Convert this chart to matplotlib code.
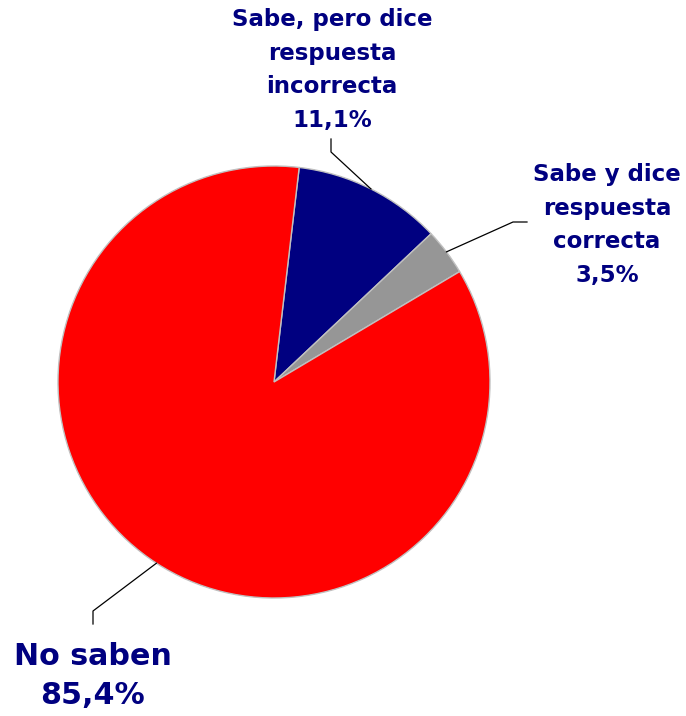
import numpy as np
import matplotlib.pyplot as plt

labels = ['Sabe, pero dice\nrespuesta\nincorrecta', 'Sabe y dice\nrespuesta\ncorrecta', 'No saben']
values = [11.1, 3.5, 85.4]
colors = ['#000080', '#969696', '#ff0000']
pct_text = ['11,1%', '3,5%', '85,4%']

W, H = 686, 716
fig = plt.figure(figsize=(W / 100, H / 100), dpi=100)
ax = fig.add_axes([0, 0, 1, 1])

cx, cy, r = 274, H - 382, 216
start = 83.3
wedges, _ = ax.pie(values, colors=colors, startangle=start, counterclock=False,
                   center=(cx, cy), radius=r, frame=True,
                   wedgeprops=dict(edgecolor='#c0c0c0', linewidth=1))
ax.set_xlim(0, W)
ax.set_ylim(0, H)
ax.axis('off')

# leader lines: anchor on rim at mid-angle -> elbow -> end
elbows = [((331, 152), (331, 139)), ((513, 222), (527, 222)), ((93, 611), (93, 624))]
text_pos = [(332, 70), (607, 225), (93, 676)]
fsize = [16.5, 16.5, 21.7]
lsp = [1.58, 1.58, 1.42]

ang = start
for i, v in enumerate(values):
    mid = np.deg2rad(ang - v * 3.6 / 2)
    ang -= v * 3.6
    ax_ = cx + r * np.cos(mid)
    ay_ = cy + r * np.sin(mid)
    (ex, ey), (fx, fy) = elbows[i]
    ax.plot([ax_, ex, fx], [ay_, H - ey, H - fy], color='black', lw=0.9)
    tx, ty = text_pos[i]
    ax.text(tx, H - ty, labels[i] + '\n' + pct_text[i], ha='center', va='center',
            fontsize=fsize[i], fontweight='bold', color='#000080',
            linespacing=lsp[i], family='DejaVu Sans')

fig.savefig('out.png', dpi=100)
